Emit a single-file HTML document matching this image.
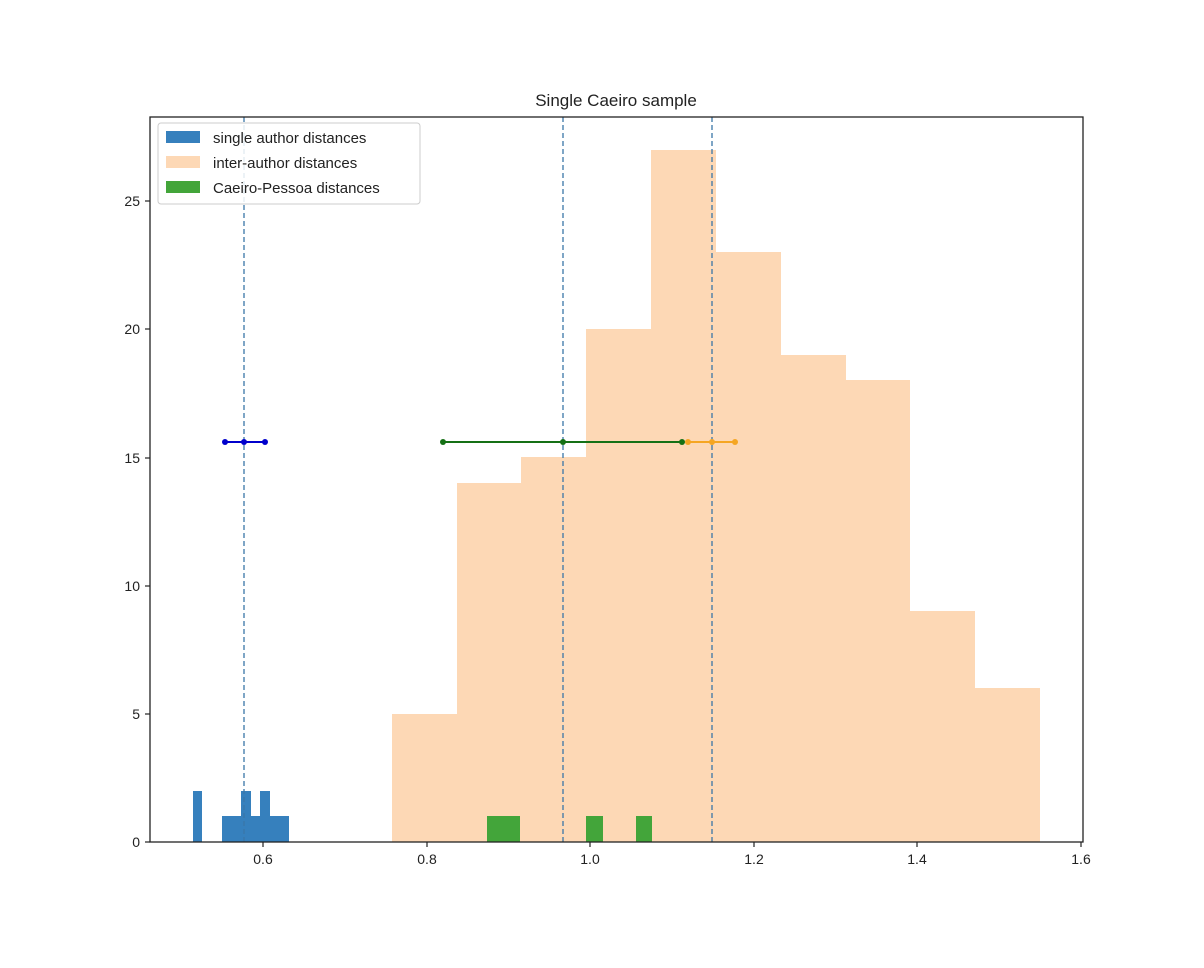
<!DOCTYPE html>
<html><head><style>body{margin:0;background:#fff}</style></head><body>
<svg width="1204" height="963" xmlns="http://www.w3.org/2000/svg" font-family="Liberation Sans, DejaVu Sans, sans-serif">
<rect width="1204" height="963" fill="#fff"/>
<g fill="#fdd8b5">
<rect x="392" y="714" width="65" height="128"/>
<rect x="457" y="483" width="64" height="359"/>
<rect x="521" y="457" width="65" height="385"/>
<rect x="586" y="329" width="65" height="513"/>
<rect x="651" y="150" width="65" height="692"/>
<rect x="716" y="252" width="65" height="590"/>
<rect x="781" y="355" width="65" height="487"/>
<rect x="846" y="380" width="64" height="462"/>
<rect x="910" y="611" width="65" height="231"/>
<rect x="975" y="688" width="65" height="154"/>
</g>
<g fill="#3680bd">
<rect x="193" y="791" width="9" height="51"/>
<rect x="222" y="816" width="67" height="26"/>
<rect x="241" y="791" width="10" height="51"/>
<rect x="260" y="791" width="10" height="51"/>
</g>
<g fill="#43a53a">
<rect x="487" y="816" width="33" height="26"/>
<rect x="586" y="816" width="17" height="26"/>
<rect x="636" y="816" width="16" height="26"/>
</g>
<g stroke="#3a76a8" stroke-width="1.3" stroke-dasharray="5,3">
<line x1="244" y1="117" x2="244" y2="842"/>
<line x1="563" y1="117" x2="563" y2="842"/>
<line x1="712" y1="117" x2="712" y2="842"/>
</g>
<line x1="225" y1="442" x2="265" y2="442" stroke="#0000cc" stroke-width="2"/>
<g fill="#0000cc"><circle cx="225" cy="442" r="3"/><circle cx="244" cy="442" r="3"/><circle cx="265" cy="442" r="3"/></g>
<line x1="688" y1="442" x2="735" y2="442" stroke="#f5a623" stroke-width="2"/>
<g fill="#f5a623"><circle cx="688" cy="442" r="3"/><circle cx="712" cy="442" r="3"/><circle cx="735" cy="442" r="3"/></g>
<line x1="443" y1="442" x2="682" y2="442" stroke="#157015" stroke-width="2"/>
<g fill="#157015"><circle cx="443" cy="442" r="3"/><circle cx="563" cy="442" r="3"/><circle cx="682" cy="442" r="3"/></g>
<rect x="150" y="117" width="933" height="725" fill="none" stroke="#222" stroke-width="1.3"/>
<g stroke="#222" stroke-width="1.2">
<line x1="263" y1="842" x2="263" y2="847"/><line x1="427" y1="842" x2="427" y2="847"/>
<line x1="590" y1="842" x2="590" y2="847"/><line x1="754" y1="842" x2="754" y2="847"/>
<line x1="917" y1="842" x2="917" y2="847"/><line x1="1081" y1="842" x2="1081" y2="847"/>
<line x1="145" y1="842" x2="150" y2="842"/><line x1="145" y1="714" x2="150" y2="714"/>
<line x1="145" y1="586" x2="150" y2="586"/><line x1="145" y1="458" x2="150" y2="458"/>
<line x1="145" y1="329" x2="150" y2="329"/><line x1="145" y1="201" x2="150" y2="201"/>
</g>
<g font-size="14" fill="#222" text-anchor="middle">
<text x="263" y="864">0.6</text><text x="427" y="864">0.8</text><text x="590" y="864">1.0</text>
<text x="754" y="864">1.2</text><text x="917" y="864">1.4</text><text x="1081" y="864">1.6</text>
</g>
<g font-size="14" fill="#222" text-anchor="end">
<text x="140" y="847">0</text><text x="140" y="719">5</text><text x="140" y="591">10</text>
<text x="140" y="463">15</text><text x="140" y="334">20</text><text x="140" y="206">25</text>
</g>
<text x="616" y="106" font-size="17" text-anchor="middle" fill="#222">Single Caeiro sample</text>
<rect x="158" y="123" width="262" height="81" rx="3" fill="#fff" fill-opacity="0.85" stroke="#ccc"/>
<rect x="166" y="131" width="34" height="12" fill="#3680bd"/>
<rect x="166" y="156" width="34" height="12" fill="#fdd8b5"/>
<rect x="166" y="181" width="34" height="12" fill="#43a53a"/>
<g font-size="15" fill="#222">
<text x="213" y="143">single author distances</text>
<text x="213" y="168">inter-author distances</text>
<text x="213" y="193">Caeiro-Pessoa distances</text>
</g>
</svg>
</body></html>
